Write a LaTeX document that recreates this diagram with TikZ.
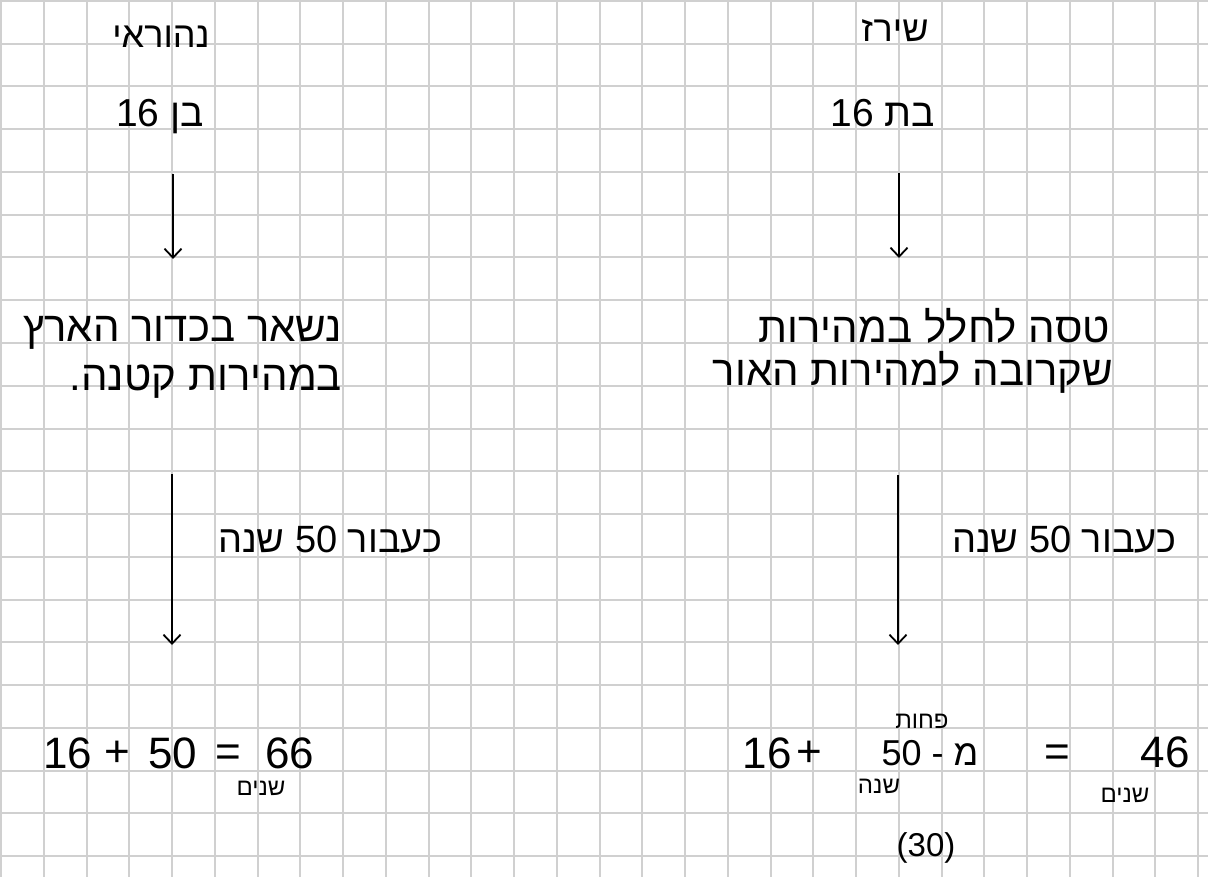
\documentclass[tikz,border=0pt]{standalone}
\usepackage{fontspec}
\setmainfont{Liberation Sans}
\newfontfamily\heb[Script=Hebrew]{Liberation Sans}
\TeXXeTstate=1
\usetikzlibrary{arrows.meta}
\newcommand\fsz[1]{\fontsize{#1}{#1}\selectfont}
\definecolor{gridgray}{RGB}{208,208,208}
\tikzset{
  gridline/.style={draw=gridgray, line width=2pt},
  txt/.style={inner sep=0pt, outer sep=0pt, text=black},
  big/.style={txt, font=\heb\fsz{39}},
  title/.style={txt, font=\heb\fsz{36}},
  mid/.style={txt, font=\heb\fsz{42}},
  lab/.style={txt, font=\heb\fsz{38}},
  num/.style={txt, font=\heb\fsz{44}},
  small/.style={txt, font=\heb\fsz{24}},
  arr/.style={draw=black, line width=1.8pt, -{Straight Barb[length=9pt,width=17pt]}}
}
\begin{document}
\begin{tikzpicture}[x=1pt,y=-1pt]
\useasboundingbox (0,0) rectangle (1208,877);
\fill[white] (0,0) rectangle (1208,877);
\foreach \i in {0,...,28} \draw[gridline] ({1+\i*42.75},0) -- ({1+\i*42.75},877);
\foreach \j in {0,...,20} \draw[gridline] (0,{1+\j*42.75}) -- (1208,{1+\j*42.75});

% titles
\node[title, anchor=base] (nameL) at (161,48) {\beginR נהוראי\endR};
\node[big, anchor=base] (ageL) at (160,127) {\beginR בן 16\endR};
\node[title, anchor=base] (nameR) at (895,42) {\beginR שירז\endR};
\node[big, anchor=base] (ageR) at (883,127) {\beginR בת 16\endR};

% middle texts
\node[mid, anchor=base east] (stayA) at (342,342) {\beginR נשאר בכדור הארץ\endR};
\node[mid, anchor=base east] (stayB) at (342,390) {\beginR במהירות קטנה.\endR};
\node[mid, anchor=base east] (flyA) at (1110,343) {\beginR טסה לחלל במהירות\endR};
\node[mid, anchor=base east] (flyB) at (1113,385) {\beginR שקרובה למהירות האור\endR};

% arrow labels
\node[lab, anchor=base west] (yrsL) at (218,552) {\beginR כעבור 50 שנה\endR};
\node[lab, anchor=base west] (yrsR) at (952,552) {\beginR כעבור 50 שנה\endR};

% arrows
\coordinate (a1s) at (173,174); \coordinate (a1e) at (173,259);
\coordinate (a2s) at (172,474); \coordinate (a2e) at (172,645);
\coordinate (a3s) at (899,173); \coordinate (a3e) at (899,258);
\coordinate (a4s) at (898,475); \coordinate (a4e) at (898,645);
\draw[arr] (a1s) -- (a1e);
\draw[arr] (a2s) -- (a2e);
\draw[arr] (a3s) -- (a3e);
\draw[arr] (a4s) -- (a4e);

% bottom left equation
\node[num, anchor=base] (l16) at (68,768) {16};
\node[num, anchor=base] (lplus) at (117,766) {+};
\node[num, anchor=base] (l50) at (173,768) {50};
\node[num, anchor=base] (leq) at (228,766) {=};
\node[num, anchor=base] (l66) at (290,768) {66};
\node[small, anchor=base] (lyrs) at (261,795) {\beginR שנים\endR};

% bottom right equation
\node[num, anchor=base] (r16) at (767,768) {16};
\node[num, anchor=base] (rplus) at (809,766) {+};
\node[small, anchor=base] (rless) at (922,728) {\beginR פחות\endR};
\node[txt, font=\heb\fsz{36}, anchor=base] (r50) at (930,765) {50 - \beginR מ\endR};
\node[small, anchor=base] (rshana) at (879,793) {\beginR שנה\endR};
\node[num, anchor=base] (req) at (1057,766) {=};
\node[num, anchor=base] (r46) at (1165,767) {46};
\node[small, anchor=base] (ryrs) at (1125,802) {\beginR שנים\endR};
\node[txt, font=\heb\fsz{33}, anchor=base] (r30) at (926,856) {(30)};
\end{tikzpicture}
\end{document}
